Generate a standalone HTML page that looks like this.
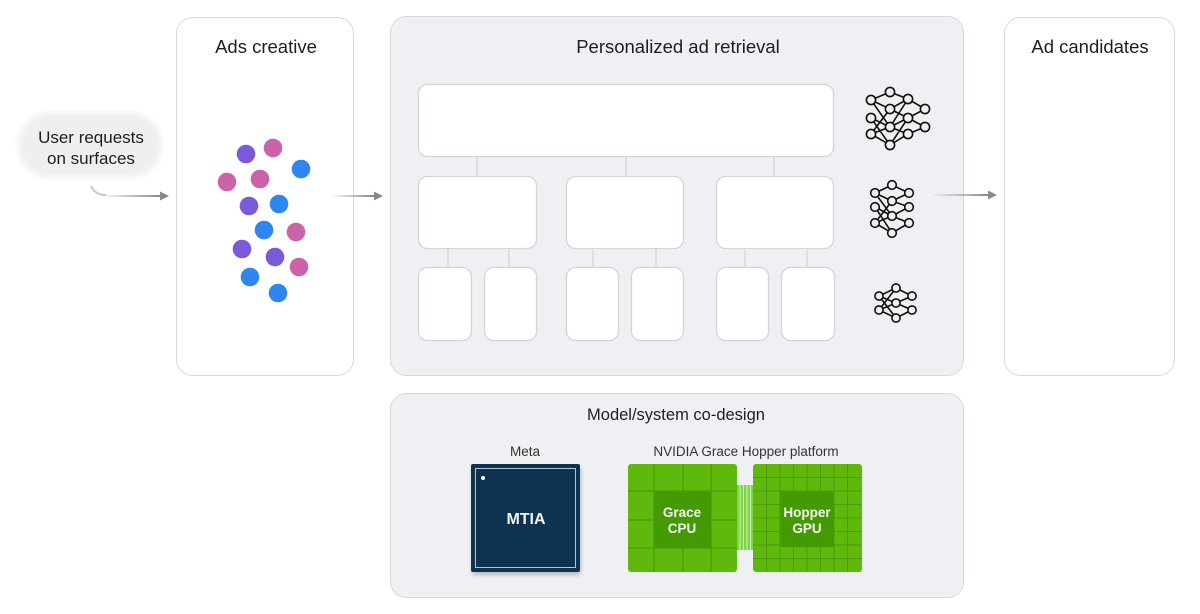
<!DOCTYPE html>
<html><head><meta charset="utf-8"><style>
html,body{margin:0;padding:0;background:#fff;}
svg{display:block;}
text{font-family:"Liberation Sans",sans-serif;}
</style></head><body>
<svg width="1200" height="614" viewBox="0 0 1200 614" xmlns="http://www.w3.org/2000/svg">
<defs>
<linearGradient id="ag" x1="0" x2="1" y1="0" y2="0"><stop offset="0" stop-color="#8a8a8a" stop-opacity="0"/><stop offset="1" stop-color="#8a8a8a"/></linearGradient>
<filter id="bl" x="-20%" y="-40%" width="140%" height="180%"><feGaussianBlur stdDeviation="3"/></filter>
<filter id="sh" x="-20%" y="-20%" width="140%" height="140%"><feGaussianBlur stdDeviation="2"/></filter>
</defs>
<rect width="1200" height="614" fill="#fff"/>

<!-- User requests bubble -->
<rect x="18" y="113" width="144" height="64" rx="32" fill="#eeeff1" filter="url(#bl)"/>
<text x="91" y="143" font-size="17" fill="#1c1e21" text-anchor="middle">User requests</text>
<text x="91" y="164" font-size="17" fill="#1c1e21" text-anchor="middle">on surfaces</text>
<path d="M91 186 Q95 195 106 195" stroke="#c8c8c8" stroke-width="2" fill="none"/>
<rect x="100" y="195" width="60" height="2" fill="url(#ag)"/>
<polygon points="160,191.5 169,196 160,200.5" fill="#8a8a8a"/>

<!-- Ads creative panel -->
<rect x="176.5" y="17.5" width="177" height="358" rx="16" fill="#fff" stroke="#d6d8db"/>
<text x="266" y="53" font-size="18.5" fill="#1c1e21" text-anchor="middle">Ads creative</text>
<g>
<circle cx="246" cy="154" r="9.3" fill="#7a5ad8"/>
<circle cx="273" cy="148" r="9.3" fill="#cc62a8"/>
<circle cx="301" cy="169" r="9.3" fill="#2f86ee"/>
<circle cx="227" cy="182" r="9.3" fill="#cc62a8"/>
<circle cx="260" cy="179" r="9.3" fill="#cc62a8"/>
<circle cx="249" cy="206" r="9.3" fill="#7a5ad8"/>
<circle cx="279" cy="204" r="9.3" fill="#2f86ee"/>
<circle cx="264" cy="230" r="9.3" fill="#2f86ee"/>
<circle cx="296" cy="232" r="9.3" fill="#cc62a8"/>
<circle cx="242" cy="249" r="9.3" fill="#7a5ad8"/>
<circle cx="275" cy="257" r="9.3" fill="#7a5ad8"/>
<circle cx="299" cy="267" r="9.3" fill="#cc62a8"/>
<circle cx="250" cy="277" r="9.3" fill="#2f86ee"/>
<circle cx="278" cy="293" r="9.3" fill="#2f86ee"/>
</g>
<rect x="330" y="195" width="44" height="2" fill="url(#ag)"/>
<polygon points="374,191.5 383,196 374,200.5" fill="#8a8a8a"/>

<!-- Personalized ad retrieval panel -->
<rect x="390.5" y="16.5" width="573" height="359" rx="16" fill="#eff0f3" stroke="#d6d8db"/>
<text x="678" y="53" font-size="18.5" fill="#1c1e21" text-anchor="middle">Personalized ad retrieval</text>
<g stroke="#d3d5d9" stroke-width="1.3" fill="none">
<line x1="477" y1="156" x2="477" y2="176"/>
<line x1="626" y1="156" x2="626" y2="176"/>
<line x1="774" y1="156" x2="774" y2="176"/>
<line x1="448" y1="248" x2="448" y2="267"/>
<line x1="509" y1="248" x2="509" y2="267"/>
<line x1="593" y1="248" x2="593" y2="267"/>
<line x1="656" y1="248" x2="656" y2="267"/>
<line x1="745" y1="248" x2="745" y2="267"/>
<line x1="807" y1="248" x2="807" y2="267"/>
</g>
<g fill="#fff" stroke="#d3d5d9" stroke-width="1.3">
<rect x="418.5" y="84.5" width="415" height="72" rx="9"/>
<rect x="418.5" y="176.5" width="118" height="72" rx="9"/>
<rect x="566.5" y="176.5" width="117" height="72" rx="9"/>
<rect x="716.5" y="176.5" width="117" height="72" rx="9"/>
<rect x="418.5" y="267.5" width="53" height="73" rx="9"/>
<rect x="484.5" y="267.5" width="52" height="73" rx="9"/>
<rect x="566.5" y="267.5" width="52" height="73" rx="9"/>
<rect x="631.5" y="267.5" width="52" height="73" rx="9"/>
<rect x="716.5" y="267.5" width="52" height="73" rx="9"/>
<rect x="781.5" y="267.5" width="53" height="73" rx="9"/>
</g>

<!-- Neural net icons -->
<g stroke="#111" stroke-width="1.6" fill="none">
<path d="M871 100 L890 92 L908 99 L925 109 M871 134 L890 145 L908 134 L925 127 M871 100 L890 109 L908 99 M871 118 L890 127 L908 118 L925 109 M871 134 L890 127 M890 109 L908 118 L925 127 M871 100 L890 127 M871 118 L890 145 M871 134 L890 109 M908 134 L890 127 M908 99 L890 127 M908 118 L890 145"/>
<path d="M875 193 L892 185 L909 193 M875 223 L892 233 L909 223 M875 193 L892 201 L909 193 M875 207 L892 216 L909 207 M875 223 L892 216 L909 223 M892 201 L909 207 M875 193 L892 216 M875 207 L892 233 M875 223 L892 201"/>
<path d="M879 296 L896 288 L912 296 M879 310 L896 318 L912 310 M879 296 L896 303 L912 310 M896 303 L912 296 M879 310 L896 303 M879 296 L896 318 M896 288 L879 310"/>
</g>
<g stroke="#111" stroke-width="1.6" fill="#eff0f3">
<circle cx="871" cy="100" r="4.6"/><circle cx="871" cy="118" r="4.6"/><circle cx="871" cy="134" r="4.6"/>
<circle cx="890" cy="92" r="4.6"/><circle cx="890" cy="109" r="4.6"/><circle cx="890" cy="127" r="4.6"/><circle cx="890" cy="145" r="4.6"/>
<circle cx="908" cy="99" r="4.6"/><circle cx="908" cy="118" r="4.6"/><circle cx="908" cy="134" r="4.6"/>
<circle cx="925" cy="109" r="4.6"/><circle cx="925" cy="127" r="4.6"/>
<circle cx="875" cy="193" r="4.3"/><circle cx="875" cy="207" r="4.3"/><circle cx="875" cy="223" r="4.3"/>
<circle cx="892" cy="185" r="4.3"/><circle cx="892" cy="201" r="4.3"/><circle cx="892" cy="216" r="4.3"/><circle cx="892" cy="233" r="4.3"/>
<circle cx="909" cy="193" r="4.3"/><circle cx="909" cy="207" r="4.3"/><circle cx="909" cy="223" r="4.3"/>
<circle cx="879" cy="296" r="4.1"/><circle cx="879" cy="310" r="4.1"/>
<circle cx="896" cy="288" r="4.1"/><circle cx="896" cy="303" r="4.1"/><circle cx="896" cy="318" r="4.1"/>
<circle cx="912" cy="296" r="4.1"/><circle cx="912" cy="310" r="4.1"/>
</g>

<rect x="930" y="194" width="58" height="2" fill="url(#ag)"/>
<polygon points="988,190.5 997,195 988,199.5" fill="#8a8a8a"/>

<!-- Ad candidates -->
<rect x="1004.5" y="17.5" width="170" height="358" rx="16" fill="#fff" stroke="#d6d8db"/>
<text x="1090" y="53" font-size="18.5" fill="#1c1e21" text-anchor="middle">Ad candidates</text>

<!-- Model/system co-design -->
<rect x="390.5" y="393.5" width="573" height="204" rx="16" fill="#eff0f3" stroke="#d6d8db"/>
<text x="676" y="420" font-size="16.5" fill="#1c1e21" text-anchor="middle">Model/system co-design</text>
<text x="525" y="456" font-size="13.5" fill="#333" text-anchor="middle">Meta</text>
<text x="746" y="456" font-size="13.5" fill="#333" text-anchor="middle">NVIDIA Grace Hopper platform</text>

<!-- MTIA -->
<rect x="472" y="467" width="109" height="108" rx="3" fill="#b8bcc2" filter="url(#sh)"/>
<rect x="471" y="464" width="109" height="108" rx="2" fill="#0d3350"/>
<rect x="475.5" y="468.5" width="100" height="99" fill="none" stroke="#b9c3cc" stroke-width="1"/>
<circle cx="483" cy="478" r="2" fill="#fff"/>
<text x="526" y="524" font-size="16" font-weight="bold" fill="#f2f4f6" text-anchor="middle">MTIA</text>

<!-- Grace CPU -->
<rect x="628" y="464" width="109" height="108" rx="3" fill="#5fb80c"/>
<g stroke="#4c9a06" stroke-width="1.2">
<line x1="654" y1="464" x2="654" y2="572"/><line x1="683" y1="464" x2="683" y2="491"/><line x1="683" y1="548" x2="683" y2="572"/><line x1="711" y1="464" x2="711" y2="572"/>
<line x1="628" y1="491" x2="737" y2="491"/><line x1="628" y1="520" x2="654" y2="520"/><line x1="711" y1="520" x2="737" y2="520"/><line x1="628" y1="548" x2="737" y2="548"/>
</g>
<rect x="654" y="491" width="57" height="57" fill="#449a02"/>
<text x="682" y="517" font-size="13.5" font-weight="bold" fill="#f4f8ee" text-anchor="middle">Grace</text>
<text x="682" y="533" font-size="13.5" font-weight="bold" fill="#f4f8ee" text-anchor="middle">CPU</text>

<!-- connector -->
<rect x="737" y="485" width="16" height="65" fill="#7fd44a"/>
<g stroke="#d8f5c0" stroke-width="0.9">
<line x1="740" y1="485" x2="740" y2="550"/><line x1="743.5" y1="485" x2="743.5" y2="550"/><line x1="747" y1="485" x2="747" y2="550"/><line x1="750.5" y1="485" x2="750.5" y2="550"/>
</g>

<!-- Hopper GPU -->
<rect x="753" y="464" width="109" height="108" rx="3" fill="#5fb80c"/>
<g stroke="#4c9a06" stroke-width="1">
<line x1="766.5" y1="464" x2="766.5" y2="572"/><line x1="780" y1="464" x2="780" y2="572"/><line x1="793.5" y1="464" x2="793.5" y2="572"/><line x1="807" y1="464" x2="807" y2="572"/><line x1="820.5" y1="464" x2="820.5" y2="572"/><line x1="834" y1="464" x2="834" y2="572"/><line x1="847.5" y1="464" x2="847.5" y2="572"/>
<line x1="753" y1="477.5" x2="862" y2="477.5"/><line x1="753" y1="491" x2="862" y2="491"/><line x1="753" y1="504.5" x2="862" y2="504.5"/><line x1="753" y1="518" x2="862" y2="518"/><line x1="753" y1="531.5" x2="862" y2="531.5"/><line x1="753" y1="545" x2="862" y2="545"/><line x1="753" y1="558.5" x2="862" y2="558.5"/>
</g>
<rect x="780" y="491.5" width="54" height="55.5" fill="#449a02"/>
<text x="807" y="517" font-size="13.5" font-weight="bold" fill="#f4f8ee" text-anchor="middle">Hopper</text>
<text x="807" y="533" font-size="13.5" font-weight="bold" fill="#f4f8ee" text-anchor="middle">GPU</text>
</svg>
</body></html>
